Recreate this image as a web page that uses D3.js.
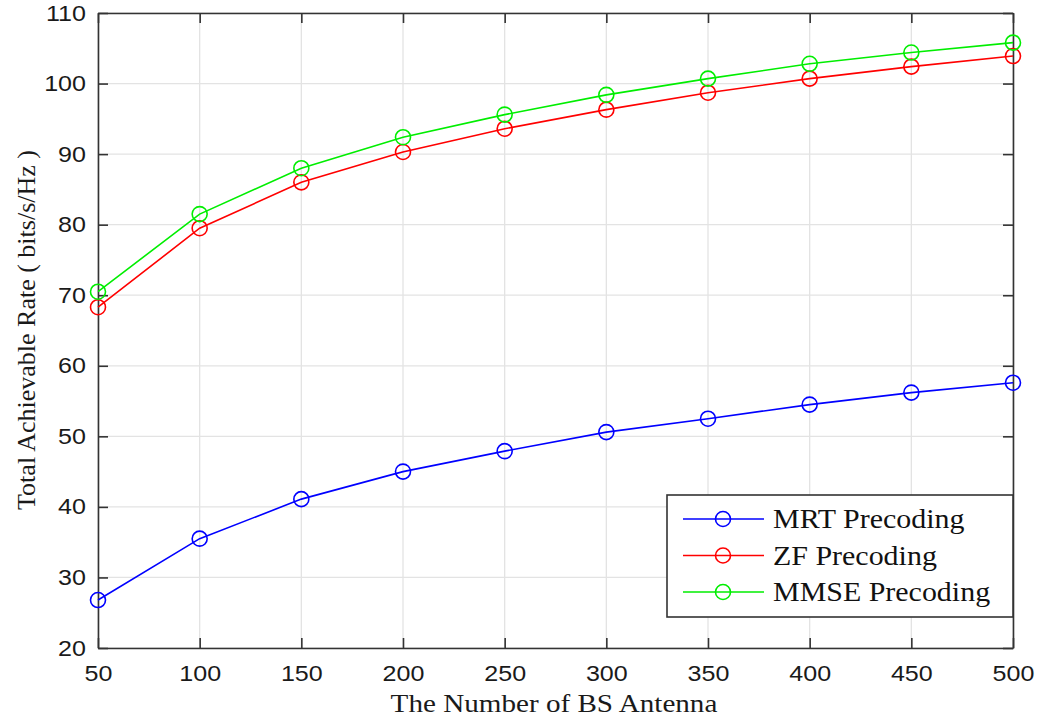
<!DOCTYPE html>
<html lang="en">
<head>
    <meta charset="UTF-8">
    <title>Total Achievable Rate</title>
    <script src="https://cdnjs.cloudflare.com/ajax/libs/d3/7.8.5/d3.min.js"></script>
    <style>
        body { margin: 0; background: #fff; }
        .tick-label { font: 22px "Liberation Sans", Arial, sans-serif; fill: #1a1a1a; }
        .axis-title { font: 26px "Liberation Serif", "Times New Roman", serif; fill: #1a1a1a; }
        .legend-text { font: 26.5px "Liberation Serif", "Times New Roman", serif; fill: #111; }
    </style>
</head>
<body>
<div id="chart"></div>
<script>
    // data
    const antennas = [50, 100, 150, 200, 250, 300, 350, 400, 450, 500];
    const mrt  = [26.8, 35.5, 41.1, 45.0, 47.9, 50.6, 52.5, 54.5, 56.2, 57.6];
    const zf   = [68.3, 79.5, 86.0, 90.3, 93.6, 96.3, 98.7, 100.7, 102.4, 103.9];
    const mmse = [70.5, 81.5, 88.0, 92.4, 95.6, 98.4, 100.7, 102.8, 104.4, 105.8];
    const seriesNames = ["MRT Precoding", "ZF Precoding", "MMSE Precoding"];
    const seriesColors = ["#0000ff", "#ff0000", "#00ee00"];
    const xTicks = [50, 100, 150, 200, 250, 300, 350, 400, 450, 500];
    const yTicks = [20, 30, 40, 50, 60, 70, 80, 90, 100, 110];

    const width = 1038, height = 719;
    const margin = {left: 98, right: 25, top: 13, bottom: 71};
    const hStretch = 1.14; // the picture is a bit wider than tall

    const svg = d3.select("#chart").append("svg")
        .attr("width", width)
        .attr("height", height);

    // widen text horizontally
    function stretch(sel, k) {
        sel.each(function() {
            const w = this.getComputedTextLength();
            d3.select(this).attr("textLength", w * k).attr("lengthAdjust", "spacingAndGlyphs");
        });
    }

    const x = d3.scaleLinear().domain([50, 500]).range([margin.left, width - margin.right]);
    const y = d3.scaleLinear().domain([20, 110]).range([height - margin.bottom, margin.top]);

    // grid
    svg.append("g").selectAll("line")
        .data(xTicks)
        .join("line")
        .attr("x1", d => x(d)).attr("x2", d => x(d))
        .attr("y1", y(20)).attr("y2", y(110))
        .attr("stroke", "#e3e3e3").attr("stroke-width", 1.3);
    svg.append("g").selectAll("line")
        .data(yTicks)
        .join("line")
        .attr("x1", x(50)).attr("x2", x(500))
        .attr("y1", d => y(d)).attr("y2", d => y(d))
        .attr("stroke", "#e3e3e3").attr("stroke-width", 1.3);

    // axes (ticks pointing inward, mirrored on top/right)
    const tl = 10;
    const axB = svg.append("g").attr("transform", `translate(0,${y(20)})`)
        .call(d3.axisBottom(x).tickValues(xTicks).tickSizeInner(-tl).tickSizeOuter(0).tickPadding(17));
    const axT = svg.append("g").attr("transform", `translate(0,${y(110)})`)
        .call(d3.axisTop(x).tickValues(xTicks).tickSizeInner(-tl).tickSizeOuter(0).tickFormat(""));
    const axL = svg.append("g").attr("transform", `translate(${x(50)},0)`)
        .call(d3.axisLeft(y).tickValues(yTicks).tickSizeInner(-tl).tickSizeOuter(0).tickPadding(12));
    const axR = svg.append("g").attr("transform", `translate(${x(500)},0)`)
        .call(d3.axisRight(y).tickValues(yTicks).tickSizeInner(-tl).tickSizeOuter(0).tickFormat(""));

    [axB, axT, axL, axR].forEach(g => {
        g.select(".domain").attr("stroke", "#333").attr("stroke-width", 1.6);
        g.selectAll(".tick line").attr("stroke", "#333").attr("stroke-width", 1.6);
        g.selectAll(".tick text").attr("class", "tick-label").attr("fill", "#1a1a1a");
    });
    axB.selectAll(".tick text").attr("dy", "0.71em");
    stretch(axB.selectAll(".tick text"), hStretch);
    stretch(axL.selectAll(".tick text"), hStretch);

    // series
    const allSeries = [mrt, zf, mmse];
    const line = d3.line().x((d, i) => x(antennas[i])).y(d => y(d));

    allSeries.forEach((vals, s) => {
        const g = svg.append("g");
        g.append("path")
            .datum(vals)
            .attr("fill", "none")
            .attr("stroke", seriesColors[s])
            .attr("stroke-width", 1.6)
            .attr("d", line);
        g.selectAll("circle")
            .data(vals)
            .join("circle")
            .attr("cx", (d, i) => x(antennas[i]))
            .attr("cy", d => y(d))
            .attr("r", 7.5)
            .attr("fill", "none")
            .attr("stroke", seriesColors[s])
            .attr("stroke-width", 1.6);
    });

    // axis titles
    const xTitle = svg.append("text")
        .attr("class", "axis-title")
        .attr("x", 554)
        .attr("y", 712)
        .attr("text-anchor", "middle")
        .text("The Number of BS Antenna");
    stretch(xTitle, 1.12);

    svg.append("text")
        .attr("class", "axis-title")
        .attr("transform", `translate(35,330) rotate(-90)`)
        .attr("text-anchor", "middle")
        .text("Total Achievable Rate ( bits/s/Hz )");

    // legend
    const legend = svg.append("g").attr("transform", "translate(667,495)");
    legend.append("rect")
        .attr("width", 346).attr("height", 122)
        .attr("fill", "#fff")
        .attr("stroke", "#333").attr("stroke-width", 1.6);
    seriesNames.forEach((name, i) => {
        const row = legend.append("g").attr("transform", `translate(0,${24 + i * 36.5})`);
        row.append("line")
            .attr("x1", 16).attr("x2", 97)
            .attr("stroke", seriesColors[i]).attr("stroke-width", 1.6);
        row.append("circle")
            .attr("cx", 56).attr("r", 7.5)
            .attr("fill", "none")
            .attr("stroke", seriesColors[i]).attr("stroke-width", 1.6);
        const t = row.append("text")
            .attr("class", "legend-text")
            .attr("x", 106).attr("dy", "0.35em")
            .text(name);
        stretch(t, 1.13);
    });
</script>
</body>
</html>
